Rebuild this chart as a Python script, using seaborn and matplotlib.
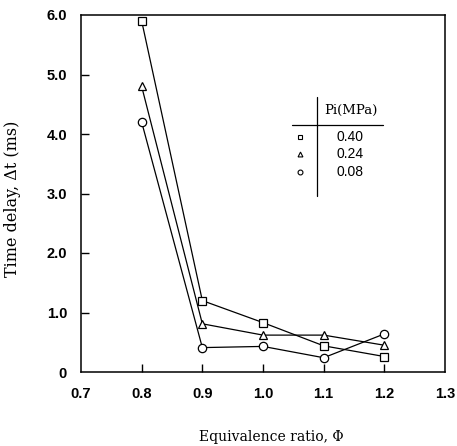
import matplotlib
matplotlib.use("Agg")
import matplotlib.pyplot as plt
import seaborn as sns
import pandas as pd

# Equivalence ratio and measured time delay for three initial pressures
phi = [0.8, 0.9, 1.0, 1.1, 1.2]
delay_040 = [5.9, 1.2, 0.83, 0.44, 0.26]
delay_024 = [4.8, 0.81, 0.62, 0.62, 0.45]
delay_008 = [4.2, 0.41, 0.43, 0.24, 0.64]
pressures = ["0.40", "0.24", "0.08"]
marker_shapes = ["s", "^", "o"]

x_ticks = [0.7, 0.8, 0.9, 1.0, 1.1, 1.2, 1.3]
x_tick_labels = ["0.7", "0.8", "0.9", "1.0", "1.1", "1.2", "1.3"]
y_ticks = [0, 1, 2, 3, 4, 5, 6]
y_tick_labels = ["0", "1.0", "2.0", "3.0", "4.0", "5.0", "6.0"]

frames = []
for p, d in zip(pressures, [delay_040, delay_024, delay_008]):
    frames.append(pd.DataFrame({"phi": phi, "delay": d, "Pi": p}))
df = pd.concat(frames, ignore_index=True)

sns.set_theme(style="ticks")
plt.rcParams["font.family"] = ["DejaVu Serif"]
plt.rcParams["text.color"] = "black"
plt.rcParams["xtick.color"] = "black"
plt.rcParams["ytick.color"] = "black"
plt.rcParams["xtick.labelcolor"] = "black"
plt.rcParams["ytick.labelcolor"] = "black"

fig = plt.figure(figsize=(4.57, 4.46), dpi=100)
ax = fig.add_axes([81 / 457, 1 - 372 / 446, 364 / 457, 357 / 446])

sns.lineplot(
    data=df, x="phi", y="delay", hue="Pi", style="Pi",
    hue_order=pressures, style_order=pressures,
    palette=["black"] * 3,
    markers=dict(zip(pressures, marker_shapes)), dashes=False,
    markersize=6, markerfacecolor="white", markeredgecolor="black",
    markeredgewidth=0.9, linewidth=0.9, legend=False, ax=ax,
)

ax.set_xlim(0.7, 1.3)
ax.set_ylim(0, 6)
ax.set_xticks(x_ticks)
ax.set_yticks(y_ticks)
tick_font = dict(family="Liberation Sans", weight="bold", size=10.5, color="black")
ax.set_xticklabels(x_tick_labels, **tick_font)
ax.set_yticklabels(y_tick_labels, **tick_font)
ax.tick_params(axis="both", direction="in", length=6, width=1.0, color="black")
ax.tick_params(axis="x", pad=11)
ax.tick_params(axis="y", pad=10)
for t in (ax.xaxis.get_major_ticks()[0], ax.xaxis.get_major_ticks()[-1],
          ax.yaxis.get_major_ticks()[0], ax.yaxis.get_major_ticks()[-1]):
    t.tick1line.set_visible(False)
for s in ax.spines.values():
    s.set_visible(True)
    s.set_linewidth(1.1)
    s.set_color("black")

ax.set_xlabel("")
ax.set_ylabel("")
fig.text(271 / 457, 1 - 437 / 446, "Equivalence ratio, Φ", ha="center", va="center",
         family="DejaVu Serif", size=10, color="black")
fig.text(13 / 457, 1 - 199 / 446, "Time delay, Δt (ms)", ha="center", va="center",
         rotation=90, family="DejaVu Serif", size=11.5, color="black")

# Table-style key for the initial pressures
ax.plot([0.648, 0.648], [0.493, 0.770], transform=ax.transAxes, color="black", lw=0.9)
ax.plot([0.580, 0.830], [0.692, 0.692], transform=ax.transAxes, color="black", lw=0.9)
ax.text(0.742, 0.734, "Pi(MPa)", transform=ax.transAxes, ha="center", va="center",
        family="DejaVu Serif", size=9.5, color="black")
for row_y, p, m in zip([0.658, 0.611, 0.560], pressures, marker_shapes):
    ax.plot([0.602], [row_y], transform=ax.transAxes, marker=m, markersize=3.5,
            markerfacecolor="white", markeredgecolor="black", markeredgewidth=0.8,
            linestyle="none")
    ax.text(0.739, row_y, p, transform=ax.transAxes, ha="center", va="center",
            family="Liberation Sans", size=10, color="black")

fig.savefig("out.png", dpi=100)
